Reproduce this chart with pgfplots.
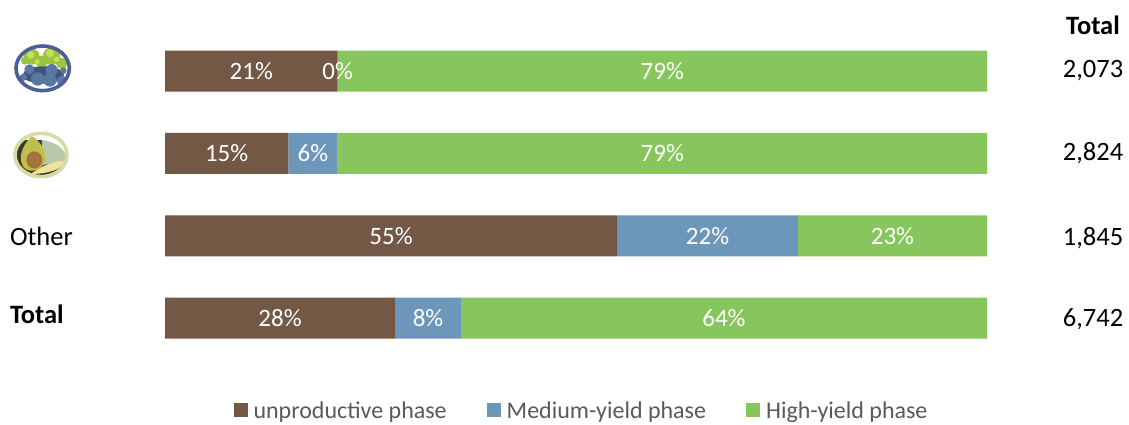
\documentclass[border=0pt]{standalone}
\usepackage{pgfplots}
\pgfplotsset{compat=1.18}
\usepackage{fontspec}
\setmainfont{Carlito}
\definecolor{cbrown}{HTML}{735845}
\definecolor{cblue}{HTML}{6C97BB}
\definecolor{cgreen}{HTML}{87C65C}
\definecolor{clegend}{HTML}{595959}
\definecolor{berry}{HTML}{5A76A3}
\definecolor{berrydark}{HTML}{3E5578}
\definecolor{leaf}{HTML}{9CC43C}
\definecolor{leaflight}{HTML}{C8DF5A}
\definecolor{leafdark}{HTML}{5F8E2C}
\definecolor{ringb}{HTML}{4A5F94}
\definecolor{ringa}{HTML}{D5DCA5}
\definecolor{avflesh}{HTML}{C2BE4E}
\definecolor{avskin}{HTML}{3B3A26}
\definecolor{avseed}{HTML}{A5743E}
\definecolor{avback}{HTML}{B9C9A8}
\definecolor{avslice}{HTML}{EFE39A}
\begin{document}
\begin{tikzpicture}[x=1pt,y=1pt]
\path (0,0) rectangle (1129,424);
\begin{axis}[
  at={(165pt,394pt)}, anchor=north west,
  scale only axis, width=822pt, height=329.3pt,
  xbar stacked, bar width=41pt,
  xmin=0, xmax=100, ymin=-0.5, ymax=3.5, y dir=reverse,
  axis lines=none, clip=false,
  point meta=explicit symbolic,
  nodes near coords,
  nodes near coords style={font=\fontsize{25}{28}\selectfont, text=white, anchor=center},
  every node near coord/.append style={anchor=center},
  legend columns=3,
  legend cell align=left,
  legend style={at={(rel axis cs:0.5,0)}, anchor=center, xshift=5.5pt, yshift=-52pt, draw=none, fill=none,
    font=\fontsize{24}{27}\selectfont\color{clegend},
    /tikz/every even column/.append style={column sep=38pt}},
  legend image code/.code={\fill[#1] (0pt,-5.5pt) rectangle (14pt,8pt); \path (0pt,0pt) -- (18pt,0pt);},
]
\addplot[fill=cbrown, draw=none] coordinates {(21,0)[21\%] (15,1)[15\%] (55,2)[55\%] (28,3)[28\%]};
\addplot[fill=cblue, draw=none] coordinates {(0,0)[] (6,1)[6\%] (22,2)[22\%] (8,3)[8\%]};
\addplot[fill=cgreen, draw=none] coordinates {(79,0)[79\%] (79,1)[79\%] (23,2)[23\%] (64,3)[64\%]};
\legend{unproductive phase, Medium-yield phase, High-yield phase}
\end{axis}
% the 0% label sits on top of the bars
\begin{axis}[
  at={(165pt,394pt)}, anchor=north west,
  scale only axis, width=822pt, height=329.3pt,
  xmin=0, xmax=100, ymin=-0.5, ymax=3.5, y dir=reverse,
  axis lines=none, clip=false,
  point meta=explicit symbolic,
  nodes near coords,
  nodes near coords style={font=\fontsize{25}{28}\selectfont, text=white, anchor=center},
  every node near coord/.append style={anchor=center},
]
\addplot[draw=none, mark=none] coordinates {(21,0)[0\%]};
\end{axis}
\def\ts{\fontsize{26.5}{30}\selectfont}
\node[anchor=west,font=\ts] at (6.5,188) {Other};
\node[anchor=west,font=\ts\bfseries] at (6.5,110) {Total};
\node[font=\ts\bfseries] at (1093,399) {Total};
\node[font=\ts] at (1093,353) {2,073};
\node[font=\ts] at (1093,271) {2,824};
\node[font=\ts] at (1093,186) {1,845};
\node[font=\ts] at (1093,105) {6,742};
% icons
\begin{scope}[shift={(0,394)},x=0.3333pt,y=-0.3333pt]
  \begin{scope}
    \clip (128,115) ellipse [x radius=85,y radius=72];
    \fill[white] (40,40) rectangle (220,190);
    \foreach \a/\b/\r in {95/80/24,155/78/26,185/100/17,125/95/18,75/92/12}
      \fill[leaf] (\a,\b) circle [radius=\r];
    \foreach \a/\b/\r in {92/75/11,150/70/12,170/88/8,112/95/7}
      \fill[leaflight] (\a,\b) circle [radius=\r];
    \fill[berrydark] (130,135) ellipse [x radius=62,y radius=26];
    \foreach \a/\b/\r in {88/118/15,70/142/11,190/122/10,185/152/15,155/120/18,113/147/20,150/150/20}
      \fill[berry] (\a,\b) circle [radius=\r];
  \end{scope}
  \draw[ringb,line width=3.6pt] (128,115) ellipse [x radius=80,y radius=67];
  \begin{scope}
    \clip (123,375) ellipse [x radius=82,y radius=69];
    \fill[white] (30,300) rectangle (220,450);
    \fill[avskin] (30,330) rectangle (130,450);
    \fill[avskin] (100,400) rectangle (220,450);
    \fill[avback] (125,330) .. controls (170,335) and (200,360) .. (200,392) -- (130,405) -- cycle;
    \fill[avflesh] (95,318) .. controls (125,335) and (140,370) .. (135,395)
       .. controls (125,425) and (75,435) .. (65,400) .. controls (55,370) and (75,340) .. (95,318) -- cycle;
    \fill[avseed] (103,390) ellipse [x radius=24,y radius=26];
    \fill[avslice] (92,432) .. controls (130,405) and (165,392) .. (195,393)
       .. controls (190,415) and (150,432) .. (92,432) -- cycle;
  \end{scope}
  \draw[ringa,line width=3.6pt] (123,375) ellipse [x radius=78,y radius=65];
\end{scope}
\end{tikzpicture}
\end{document}
